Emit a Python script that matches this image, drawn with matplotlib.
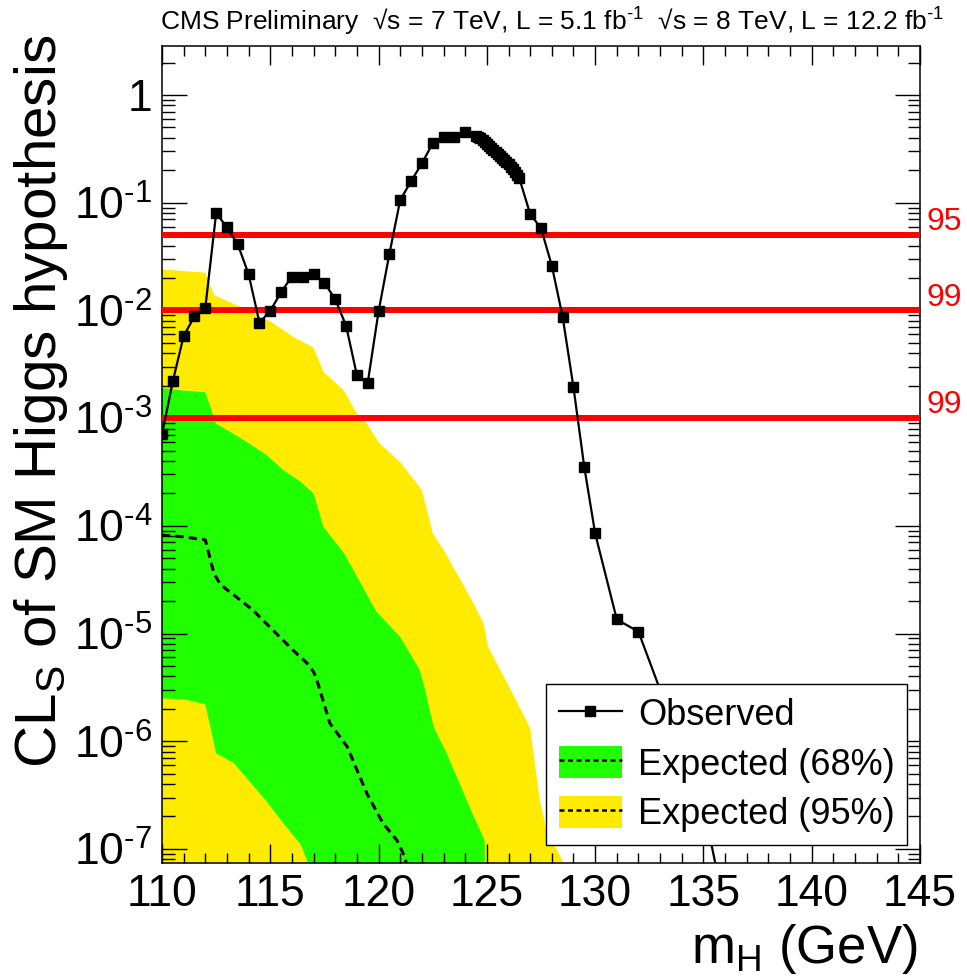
import numpy as np
import matplotlib
matplotlib.use('Agg')
import matplotlib.pyplot as plt
from matplotlib.lines import Line2D
from matplotlib.patches import Patch
from matplotlib.ticker import FixedLocator, LogLocator, MultipleLocator, FuncFormatter, NullFormatter

# observed CLs scan
mass_obs = [110.0, 110.5, 111.0, 111.5, 112.0, 112.5, 113.0, 113.5, 114.0, 114.5,
            115.0, 115.5, 116.0, 116.5, 117.0, 117.5, 118.0, 118.5, 119.0, 119.5,
            120.0, 120.5, 121.0, 121.5, 122.0, 122.5, 123.0, 123.5, 124.0, 124.5,
            124.6, 124.7, 124.8, 124.9, 125.0, 125.1, 125.2, 125.3, 125.4, 125.5,
            125.6, 125.7, 125.8, 125.9, 126.0, 126.1, 126.2, 126.3, 126.4, 126.5,
            127.0, 127.5, 128.0, 128.5, 129.0, 129.5, 130.0, 131.0, 132.0, 133.0,
            134.0, 135.0, 136.0]
cls_obs = [7.1e-4, 2.2e-3, 5.8e-3, 8.8e-3, 0.0106, 0.080, 0.059, 0.041, 0.0216, 0.0077,
           0.0099, 0.0148, 0.0206, 0.0206, 0.0217, 0.018, 0.0127, 0.0072, 0.0025, 0.00213,
           0.0098, 0.0335, 0.106, 0.158, 0.232, 0.356, 0.405, 0.405, 0.45, 0.42,
           0.41, 0.395, 0.38, 0.365, 0.35, 0.335, 0.322, 0.308, 0.295, 0.283,
           0.272, 0.26, 0.249, 0.238, 0.227, 0.216, 0.205, 0.193, 0.181, 0.168,
           0.0785, 0.058, 0.026, 0.0087, 0.00193, 3.5e-4, 8.5e-5, 1.35e-5, 1.04e-5, 3.0e-6,
           9.0e-7, 2.5e-7, 2.7e-8]

# expected median
mass_exp = [110.0, 111.0, 112.0, 112.4, 112.7, 114.2, 114.5, 116.05, 116.7, 117.0,
            117.15, 117.75, 118.55, 119.45, 120.2, 120.85, 121.2, 121.5]
cls_exp = [8.2e-5, 7.9e-5, 7.4e-5, 3.6e-5, 2.85e-5, 1.65e-5, 1.43e-5, 7.0e-6, 5.3e-6, 4.4e-6,
           3.7e-6, 1.47e-6, 8.9e-7, 3.3e-7, 1.73e-7, 1.2e-7, 8.5e-8, 5.0e-8]

# 68% band edges
mass_68_up = [110.0, 111.0, 112.0, 112.5, 113.75, 114.8, 115.6, 116.4, 117.0, 117.45,
              118.4, 119.0, 119.9, 121.0, 121.9, 122.15, 122.55, 123.15, 124.35, 124.9, 125.0]
cls_68_up = [1.9e-3, 1.8e-3, 1.74e-3, 8.9e-4, 6.3e-4, 4.6e-4, 3.3e-4, 2.57e-4, 2.0e-4, 9.8e-5,
             5.6e-5, 3.4e-5, 1.6e-5, 9.3e-6, 4.6e-6, 3.0e-6, 1.35e-6, 7.7e-7, 2.1e-7, 1.2e-7, 1e-9]
mass_68_lo = [110.0, 111.0, 112.0, 112.5, 113.3, 114.8, 115.6, 116.4, 117.0, 125.0]
cls_68_lo = [2.5e-6, 2.45e-6, 2.2e-6, 7.7e-7, 6.3e-7, 2.8e-7, 1.73e-7, 1.1e-7, 5.5e-8, 1e-9]

# 95% band edges
mass_95_up = [110.0, 112.0, 112.4, 113.6, 115.0, 116.05, 117.0, 117.45, 118.4, 119.0,
              119.45, 120.05, 121.0, 122.0, 122.5, 123.0, 124.3, 124.85, 125.05, 126.35,
              127.0, 127.15, 127.45, 127.75, 128.55, 129.0]
cls_95_up = [0.024, 0.0224, 0.0139, 0.0108, 0.0079, 0.0057, 0.0045, 0.0027, 0.0018, 0.0011,
             8.9e-4, 5.8e-4, 3.9e-4, 2.15e-4, 8.5e-5, 6.0e-5, 2.05e-5, 1.24e-5, 7.6e-6, 2.4e-6,
             1.32e-6, 7.8e-7, 2.8e-7, 1.5e-7, 7.4e-8, 1e-9]
mass_95_lo = [110.0, 129.0]
cls_95_lo = [1e-9, 1e-9]

cl_levels = [0.05, 0.01, 0.001]
cl_names = ["95", "99", "99"]

header = ("CMS Preliminary  \u221as = 7 TeV, L = 5.1 fb$^{\\text{-}1}$"
          "  \u221as = 8 TeV, L = 12.2 fb$^{\\text{-}1}$")

plt.rcParams['font.family'] = ['Liberation Sans', 'DejaVu Sans']
plt.rcParams['mathtext.fontset'] = 'custom'
plt.rcParams['mathtext.rm'] = 'Liberation Sans'
plt.rcParams['mathtext.it'] = 'Liberation Sans:italic'
plt.rcParams['mathtext.bf'] = 'Liberation Sans:bold'
plt.rcParams['mathtext.default'] = 'rm'

GREEN = '#20ff00'
YELLOW = '#ffeb00'

fig = plt.figure(figsize=(9.67, 9.76), dpi=100)
ax = fig.add_axes([162 / 967, 1 - 863 / 976, 758 / 967, 817 / 976])

ax.fill(np.concatenate([mass_95_up, mass_95_lo[::-1]]),
        np.concatenate([cls_95_up, cls_95_lo[::-1]]), color=YELLOW, lw=0, zorder=1)
ax.fill(np.concatenate([mass_68_up, mass_68_lo[::-1]]),
        np.concatenate([cls_68_up, cls_68_lo[::-1]]), color=GREEN, lw=0, zorder=1.5)
ax.plot(mass_exp, cls_exp, color='black', lw=2.2, ls=(0, (2.7, 1.7)), zorder=2)

for lev, name in zip(cl_levels, cl_names):
    ax.axhline(lev, color='#ff0000', lw=4.3, zorder=3)
    ax.annotate(name, xy=(1, lev), xycoords=('axes fraction', 'data'),
                xytext=(5, 3.5), textcoords='offset points',
                color='#ff0000', fontsize=23, ha='left', va='baseline',
                annotation_clip=False)

ax.plot(mass_obs, cls_obs, color='black', lw=1.6, marker='s', ms=6.8,
        mec='black', mfc='black', zorder=4)

ax.set_yscale('log')
ax.set_xlim(110, 145)
ax.set_ylim(7.4e-8, 2.85)

ax.xaxis.set_major_locator(MultipleLocator(5))
ax.xaxis.set_minor_locator(MultipleLocator(1))
ax.yaxis.set_major_locator(FixedLocator([10.0 ** k for k in range(-7, 1)]))
ax.yaxis.set_minor_locator(LogLocator(base=10, subs=np.arange(2, 10)))
ax.yaxis.set_minor_formatter(NullFormatter())


def ylab(v, pos):
    k = int(round(np.log10(v)))
    if k == 0:
        return '1'
    return r'$10^{\text{-}%d}$' % (-k)


ax.yaxis.set_major_formatter(FuncFormatter(ylab))

ax.tick_params(axis='both', which='both', direction='in', top=True, right=True,
               width=1.0, color='black')
ax.tick_params(axis='x', which='major', length=14, labelsize=32, pad=8)
ax.tick_params(axis='x', which='minor', length=7.5)
ax.tick_params(axis='y', which='major', length=18, labelsize=32, pad=7)
ax.tick_params(axis='y', which='minor', length=9)
for sp in ax.spines.values():
    sp.set_linewidth(1.1)

# legend
h_obs = Line2D([], [], color='black', lw=1.6, marker='s', ms=6.8)
h_dash = Line2D([], [], color='black', lw=1.8, ls=(0, (2.0, 1.4)))
h68 = (Patch(facecolor=GREEN, edgecolor='none'), h_dash)
h95 = (Patch(facecolor=YELLOW, edgecolor='none'), h_dash)
leg = ax.legend([h_obs, h68, h95], ['Observed', 'Expected (68%)', 'Expected (95%)'],
                loc='upper left', bbox_to_anchor=(546 / 967, 1 - 684 / 976),
                bbox_transform=fig.transFigure, borderaxespad=0,
                fontsize=26, handlelength=1.75, handleheight=1.0,
                handletextpad=0.45, labelspacing=0.36, borderpad=0.35,
                frameon=True, fancybox=False, framealpha=1, edgecolor='black')
leg.get_frame().set_linewidth(1.0)
leg.set_zorder(10)

fig.text(160 / 967, 1 - 31 / 976, header, fontsize=19, ha='left', va='baseline')
fig.text(12 / 967, 1 - 35 / 976, r'CL$_{\mathrm{S}}$ of SM Higgs hypothesis',
         fontsize=42, rotation=90, ha='left', va='top')
fig.text(918 / 967, 1 - 963 / 976, r'm$_{\mathrm{H}}$ (GeV)', fontsize=38,
         ha='right', va='baseline')

fig.savefig('out.png', dpi=100)
